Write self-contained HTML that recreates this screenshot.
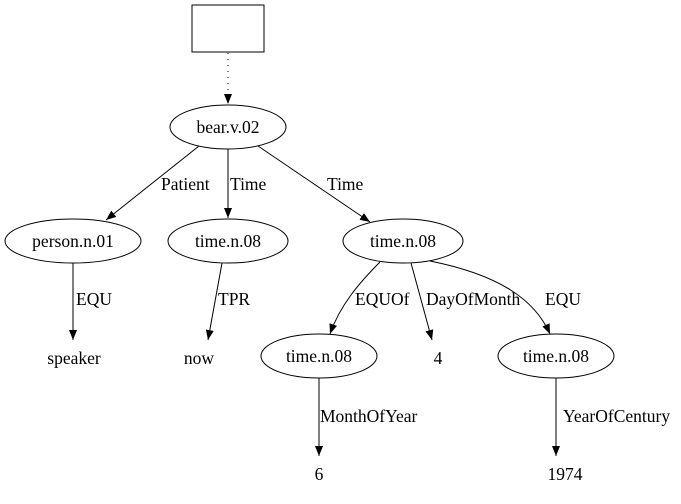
<!DOCTYPE html>
<html><head><meta charset="utf-8"><style>
html,body{margin:0;padding:0;background:#fff;}
svg{display:block;}
text{font-family:"Liberation Serif",serif;font-size:17.5px;fill:#000;}
</style></head><body>
<svg width="681" height="504" viewBox="0 0 681 504" xmlns="http://www.w3.org/2000/svg">
<defs><marker id="a" markerWidth="10" markerHeight="8" refX="10" refY="4" orient="auto" markerUnits="userSpaceOnUse"><path d="M0,0 L10,4 L0,8 Z" fill="#000"/></marker></defs>
<g fill="none" stroke="#000" stroke-width="1">
<rect x="192" y="5" width="72" height="47"/>
<line x1="228" y1="53" x2="228" y2="104" stroke-dasharray="1,5" marker-end="url(#a)"/>
<ellipse cx="228" cy="127" rx="58" ry="22"/>
<ellipse cx="73" cy="241" rx="68" ry="22"/>
<ellipse cx="228" cy="241" rx="60" ry="22"/>
<ellipse cx="403" cy="241" rx="60" ry="22"/>
<ellipse cx="319" cy="356" rx="58" ry="22"/>
<ellipse cx="556" cy="356" rx="58" ry="22"/>
<line x1="199" y1="146" x2="106" y2="220" marker-end="url(#a)"/>
<line x1="228" y1="149" x2="228" y2="218" marker-end="url(#a)"/>
<line x1="258" y1="146" x2="370" y2="222" marker-end="url(#a)"/>
<line x1="73" y1="263" x2="73" y2="340" marker-end="url(#a)"/>
<line x1="222" y1="263" x2="208" y2="340" marker-end="url(#a)"/>
<path d="M380,262 C360,282 340,305 330,334" marker-end="url(#a)"/>
<line x1="411" y1="263" x2="432" y2="340" marker-end="url(#a)"/>
<path d="M430,261 C500,275 535,300 550,334" marker-end="url(#a)"/>
<line x1="319" y1="378" x2="319" y2="456" marker-end="url(#a)"/>
<line x1="556" y1="378" x2="556" y2="456" marker-end="url(#a)"/>
</g>
<g text-anchor="middle">
<text x="228" y="133">bear.v.02</text>
<text x="73" y="247">person.n.01</text>
<text x="228" y="247">time.n.08</text>
<text x="403" y="247">time.n.08</text>
<text x="319" y="362">time.n.08</text>
<text x="556" y="362">time.n.08</text>
<text x="74" y="364">speaker</text>
<text x="199" y="364">now</text>
<text x="438" y="364">4</text>
<text x="319" y="480">6</text>
<text x="565" y="480">1974</text>
</g>
<text x="161" y="190">Patient</text>
<text x="230" y="190">Time</text>
<text x="327" y="190">Time</text>
<text x="76" y="305">EQU</text>
<text x="218" y="305">TPR</text>
<text x="355" y="305">EQUOf</text>
<text x="426" y="305">DayOfMonth</text>
<text x="545" y="305">EQU</text>
<text x="320" y="422">MonthOfYear</text>
<text x="563" y="422">YearOfCentury</text>
</svg>
</body></html>
